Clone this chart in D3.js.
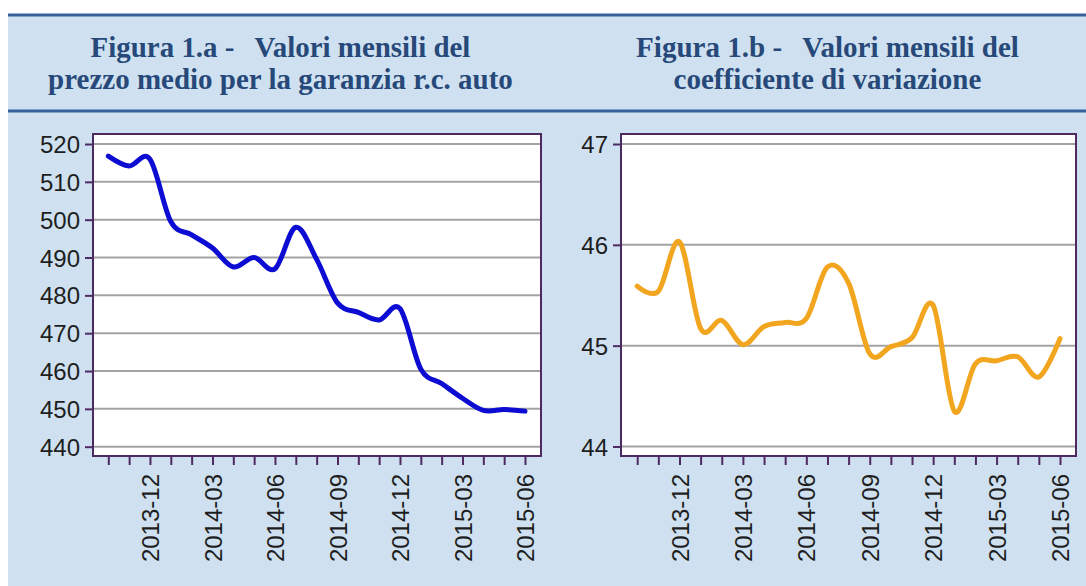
<!DOCTYPE html>
<html>
<head>
<meta charset="utf-8">
<script src="https://cdn.jsdelivr.net/npm/d3@7"></script>
<style>
  html, body { margin: 0; padding: 0; background: #ffffff; }
  svg { display: block; }
</style>
</head>
<body>
<svg id="chart" width="1086" height="586"></svg>
<script>
// ---- DATA ----
const months = ["2013-10","2013-11","2013-12","2014-01","2014-02","2014-03","2014-04",
  "2014-05","2014-06","2014-07","2014-08","2014-09","2014-10","2014-11","2014-12",
  "2015-01","2015-02","2015-03","2015-04","2015-05","2015-06"];
const tickLabels = ["2013-12","2014-03","2014-06","2014-09","2014-12","2015-03","2015-06"];
const prezzoMedio = [516.8, 514.2, 516.0, 499.5, 496.0, 492.5, 487.5, 490.0, 487.0, 498.0,
  489.5, 478.0, 475.5, 473.5, 476.5, 460.5, 456.7, 452.8, 449.6, 449.8, 449.4];
const coeffVariazione = [45.59, 45.54, 46.03, 45.17, 45.25, 45.01, 45.19, 45.23, 45.27, 45.78,
  45.62, 44.92, 44.99, 45.08, 45.40, 44.35, 44.82, 44.85, 44.89, 44.69, 45.07];
const yTicksA = [440, 450, 460, 470, 480, 490, 500, 510, 520];
const yTicksB = [44, 45, 46, 47];
const titleA = ["Figura 1.a -", "Valori mensili del", "prezzo medio per la garanzia r.c. auto"];
const titleB = ["Figura 1.b -", "Valori mensili del", "coefficiente di variazione"];

// ---- LAYOUT ----
const svg = d3.select("#chart");
const BG = "#cfe1f0", HEAD = "#36619a", TITLE = "#27497a", FRAME = "#4e2a63", GRID = "#a3a3a3";

svg.append("rect").attr("x", 8).attr("y", 14).attr("width", 1078).attr("height", 572).attr("fill", BG);
svg.append("rect").attr("x", 8).attr("y", 13.5).attr("width", 1078).attr("height", 3).attr("fill", HEAD);
svg.append("rect").attr("x", 8).attr("y", 109.5).attr("width", 1078).attr("height", 3).attr("fill", HEAD);

function fitText(sel, target) {
  const w = sel.node().getComputedTextLength();
  const fs = parseFloat(sel.attr("font-size"));
  sel.attr("font-size", fs * target / w);
}

function drawTitle(cx, lines, w1, w2, gap) {
  const g = svg.append("g").attr("font-family", "'Liberation Serif', 'Times New Roman', serif")
    .attr("font-weight", "bold").attr("fill", TITLE);
  const t1 = g.append("text").attr("font-size", 26).attr("y", 57).attr("text-anchor", "start");
  t1.append("tspan").text(lines[0]);
  t1.append("tspan").attr("dx", gap).text(lines[1]);
  let w = t1.node().getComputedTextLength() + gap;
  const fs = 26 * (w1 - gap) / (w - gap);
  t1.attr("font-size", fs);
  w = t1.node().getComputedTextLength() + gap;
  t1.attr("x", cx - w / 2);
  const t2 = g.append("text").attr("font-size", 26).attr("x", cx).attr("y", 89)
    .attr("text-anchor", "middle").text(lines[2]);
  fitText(t2, w2);
}
drawTitle(280.5, titleA, 380, 465, 20);
drawTitle(827.5, titleB, 383, 308, 20);

function drawPanel(opts) {
  const { left, right, top, bottom, xFirst, xLast, yDomain, yRange, yTicks, values, color } = opts;
  const x = d3.scalePoint().domain(months).range([xFirst, xLast]);
  const y = d3.scaleLinear().domain(yDomain).range(yRange);
  const g = svg.append("g");

  g.append("rect").attr("x", left).attr("y", top).attr("width", right - left)
    .attr("height", bottom - top).attr("fill", "#ffffff");

  g.append("g").selectAll("line").data(yTicks).join("line")
    .attr("x1", left).attr("x2", right)
    .attr("y1", d => y(d)).attr("y2", d => y(d))
    .attr("stroke", GRID).attr("stroke-width", 2);

  const line = d3.line().x((d, i) => x(months[i])).y(d => y(d)).curve(d3.curveCardinal.tension(0));
  g.append("path").datum(values).attr("d", line).attr("fill", "none")
    .attr("stroke", color).attr("stroke-width", 5).attr("stroke-linejoin", "round").attr("stroke-linecap", "round");

  g.append("rect").attr("x", left).attr("y", top).attr("width", right - left)
    .attr("height", bottom - top).attr("fill", "none").attr("stroke", FRAME).attr("stroke-width", 2);

  const ya = g.append("g").attr("transform", `translate(${left},0)`)
    .call(d3.axisLeft(y).tickValues(yTicks).tickSize(8).tickPadding(5).tickFormat(d3.format("d")));
  ya.select(".domain").remove();
  ya.selectAll("line").attr("stroke", FRAME).attr("stroke-width", 2);
  ya.selectAll("text").attr("font-family", "'Liberation Sans', Arial, sans-serif")
    .attr("font-size", 24).attr("fill", "#1e1e1e").attr("dy", "0.36em");

  const xa = g.append("g").attr("transform", `translate(0,${bottom})`)
    .call(d3.axisBottom(x).tickSize(9).tickFormat(d => tickLabels.includes(d) ? d : ""));
  xa.select(".domain").remove();
  xa.selectAll("line").attr("stroke", FRAME).attr("stroke-width", 2);
  xa.selectAll("text").attr("font-family", "'Liberation Sans', Arial, sans-serif")
    .attr("font-size", 24).attr("fill", "#1e1e1e")
    .attr("transform", "rotate(-90)").attr("text-anchor", "end")
    .attr("x", -18).attr("y", 0).attr("dy", "0.36em");
}

drawPanel({ left: 93, right: 541, top: 134, bottom: 456, xFirst: 108.3, xLast: 525,
  yDomain: [440, 520], yRange: [446.7, 144], yTicks: yTicksA, values: prezzoMedio, color: "#0c0cd2" });
drawPanel({ left: 621, right: 1076, top: 134, bottom: 456, xFirst: 637.2, xLast: 1060,
  yDomain: [44, 47], yRange: [446.5, 144], yTicks: yTicksB, values: coeffVariazione, color: "#f2a61f" });
</script>
</body>
</html>
